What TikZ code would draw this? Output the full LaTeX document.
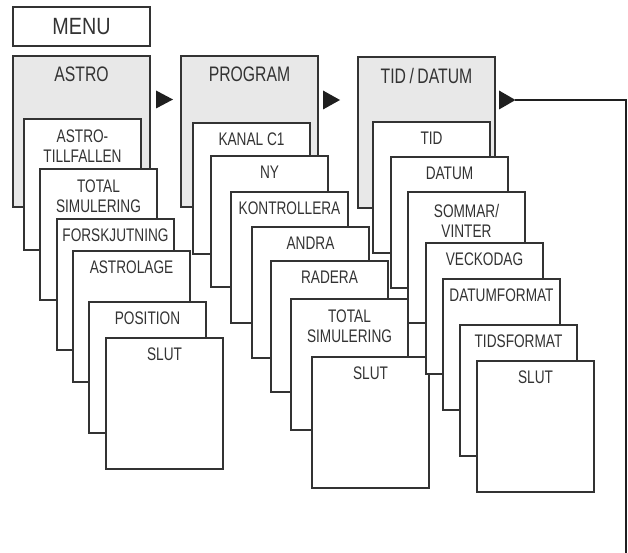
\documentclass[tikz,border=0pt]{standalone}
\usepackage{fontspec}
\setmainfont{Liberation Sans}[FakeStretch=0.75]
\newfontfamily\menufont{Liberation Sans}[FakeStretch=0.84]
\begin{document}
\begin{tikzpicture}[x=1pt,y=-1pt,
  every node/.style={inner sep=0pt,outer sep=0pt},
  menubox/.style={draw=black!80,line width=1.1pt,fill=white,anchor=north west,minimum width=137pt,minimum height=39pt},
  headbox/.style={draw=black!80,line width=1.1pt,fill=gray!18,anchor=north west,minimum width=137pt,minimum height=151pt},
  itembox/.style={draw=black!80,line width=1.1pt,fill=white,anchor=north west,minimum width=117pt,minimum height=131pt},
  headtxt/.style={text=black!80,font=\fontsize{21}{23}\selectfont},
  itemtxt/.style={text=black!80,font=\fontsize{18.2}{20}\selectfont,align=center},
  menutxt/.style={text=black!80,font=\menufont\fontsize{23.5}{25}\selectfont},
  tri/.style={fill=black!88},
  fbline/.style={draw=black!88,line width=2pt}
]
\useasboundingbox (0,0) rectangle (628,553);

% MENU
\node[menubox] (menu) at (13,7) {};
\node[menutxt] (menut) at (81.5,27) {MENU};

% ---------------- ASTRO column
\node[headbox] (astro) at (13,56) {};
\node[headtxt] (astrot) at (81.5,74) {ASTRO};
\node[itembox] (a1) at (24,119) {};
\node[itemtxt] at ([yshift=-27pt]a1.north) {ASTRO-\\TILLFALLEN};
\node[itembox] (a2) at (40,169) {};
\node[itemtxt] at ([yshift=-27pt]a2.north) {TOTAL\\SIMULERING};
\node[itembox] (a3) at (57,219) {};
\node[itemtxt] at ([yshift=-16.5pt]a3.north) {FORSKJUTNING};
\node[itembox] (a4) at (73,251) {};
\node[itemtxt] at ([yshift=-16.5pt]a4.north) {ASTROLAGE};
\node[itembox] (a5) at (89,302) {};
\node[itemtxt] at ([yshift=-16.5pt]a5.north) {POSITION};
\node[itembox] (a6) at (106,338) {};
\node[itemtxt] at ([yshift=-16.5pt]a6.north) {SLUT};

% ---------------- PROGRAM column
\node[headbox] (prog) at (181,56) {};
\node[headtxt] (progt) at (249.5,74) {PROGRAM};
\node[itembox] (p1) at (193,123) {};
\node[itemtxt] at ([yshift=-16.5pt]p1.north) {KANAL C1};
\node[itembox] (p2) at (211,156) {};
\node[itemtxt] at ([yshift=-16.5pt]p2.north) {NY};
\node[itembox] (p3) at (231,192) {};
\node[itemtxt] at ([yshift=-16.5pt]p3.north) {KONTROLLERA};
\node[itembox] (p4) at (252,227) {};
\node[itemtxt] at ([yshift=-16.5pt]p4.north) {ANDRA};
\node[itembox] (p5) at (271,261) {};
\node[itemtxt] at ([yshift=-16.5pt]p5.north) {RADERA};
\node[itembox] (p6) at (291,299) {};
\node[itemtxt] at ([yshift=-27pt]p6.north) {TOTAL\\SIMULERING};
\node[itembox] (p7) at (312,357) {};
\node[itemtxt] at ([yshift=-16.5pt]p7.north) {SLUT};

% ---------------- TID/DATUM column
\node[headbox] (tid) at (358,57) {};
\node[headtxt] (tidt) at (426.5,76) {TID\,/\,DATUM};
\node[itembox] (t1) at (373,122) {};
\node[itemtxt] at ([yshift=-16.5pt]t1.north) {TID};
\node[itembox] (t2) at (391,157) {};
\node[itemtxt] at ([yshift=-16.5pt]t2.north) {DATUM};
\node[itembox] (t3) at (408,192) {};
\node[itemtxt] at ([yshift=-29pt]t3.north) {SOMMAR/\\VINTER};
\node[itembox] (t4) at (426,243) {};
\node[itemtxt] at ([yshift=-16.5pt]t4.north) {VECKODAG};
\node[itembox] (t5) at (443,279) {};
\node[itemtxt] at ([yshift=-16.5pt]t5.north) {DATUMFORMAT};
\node[itembox] (t6) at (460,325) {};
\node[itemtxt] at ([yshift=-16.5pt]t6.north) {TIDSFORMAT};
\node[itembox] (t7) at (477,361) {};
\node[itemtxt] at ([yshift=-16.5pt]t7.north) {SLUT};

% ---------------- arrows
\coordinate (ar1) at (156,99.5);
\fill[tri] (ar1) -- ++(0,-9) -- ++(17,9) -- ++(-17,9) -- cycle;
\coordinate (ar2) at (323,100);
\fill[tri] (ar2) -- ++(0,-9.5) -- ++(17,9.5) -- ++(-17,9.5) -- cycle;
\coordinate (ar3) at (499,100);
\fill[tri] (ar3) -- ++(0,-9.5) -- ++(16.5,9.5) -- ++(-16.5,9.5) -- cycle;
\coordinate (ar3tip) at (515,100);
\coordinate (fbend) at (626,553);
\draw[fbline] (fbend) |- (ar3tip);
\end{tikzpicture}
\end{document}
